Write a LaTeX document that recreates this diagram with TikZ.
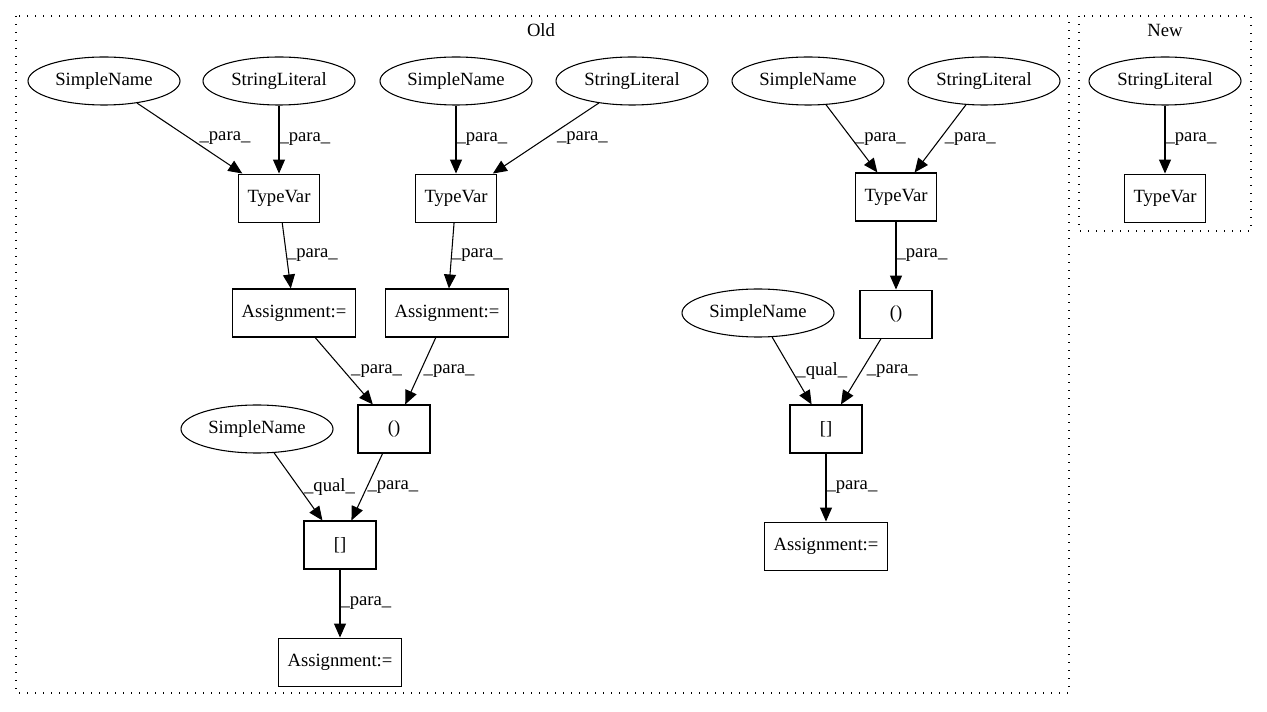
\documentclass[tikz,border=0pt]{standalone}
\usepackage{fontspec}
\setmainfont{Liberation Serif}
\usetikzlibrary{positioning}
\usetikzlibrary{shapes}
\usetikzlibrary{arrows.meta}

\begin{document}
\begin{tikzpicture}[x=0.75pt, y=-0.75pt, node distance=51pt,
  font=\fontsize{14pt}{16pt}\selectfont,
  leaf/.style={draw, ellipse, minimum width=114pt, minimum height=36pt, inner sep=0pt, line width=0.8pt},
  op/.style={draw, rectangle, minimum width=54pt, minimum height=36pt, inner xsep=7pt, inner ysep=0pt, line width=0.8pt},
  flow/.style={-{Triangle[length=10.5pt,width=9pt]}, line width=0.8pt},
  lbl/.style={midway, right, inner sep=0pt},
  cluster/.style={line width=0.8pt, dash pattern=on 1pt off 5pt}]
\useasboundingbox (0,0) rectangle (1267,712);

% Old, left part
\node[leaf] (sn1) at (104,81) {SimpleName};
\node[leaf] (sl1) at (279,81) {StringLiteral};
\node[leaf] (sn2) at (456,81) {SimpleName};
\node[leaf] (sl2) at (632,81) {StringLiteral};
\node[op] (tv1) [below=of sl1] {TypeVar};
\node[op] (tv2) [below=of sn2] {TypeVar};
\node[op] (asg1) at (294,313) {Assignment:=};
\node[op] (asg2) at (447,313) {Assignment:=};
\node[op] (call1) at (394,429) {()};
\node[leaf] (sn3) at (257,429) {SimpleName};
\node[op] (idx1) at (340,545) {[]};
\node[op] (asg3) [below=of idx1] {Assignment:=};
\draw[flow] (sn1) -- (tv1) node[lbl, xshift=7pt] {\_para\_};
\draw[flow] (sl1) -- (tv1) node[lbl] {\_para\_};
\draw[flow] (sn2) -- (tv2) node[lbl] {\_para\_};
\draw[flow] (sl2) -- (tv2) node[lbl, xshift=8pt] {\_para\_};
\draw[flow] (tv1) -- (asg1) node[lbl] {\_para\_};
\draw[flow] (tv2) -- (asg2) node[lbl] {\_para\_};
\draw[flow] (asg1) -- (call1) node[lbl, xshift=5pt] {\_para\_};
\draw[flow] (asg2) -- (call1) node[lbl, xshift=2pt] {\_para\_};
\draw[flow] (sn3) -- (idx1) node[lbl, xshift=4pt] {\_qual\_};
\draw[flow] (call1) -- (idx1) node[lbl] {\_para\_};
\draw[flow] (idx1) -- (asg3) node[lbl] {\_para\_};

% Old, right part
\node[leaf] (sn4) at (808,81) {SimpleName};
\node[leaf] (sl3) at (984,81) {StringLiteral};
\node[op] (tv3) at (896,197) {TypeVar};
\node[op] (call2) [below=of tv3] {()};
\node[leaf] (sn5) at (758,313) {SimpleName};
\node[op] (idx2) at (826,429) {[]};
\node[op] (asg4) [below=of idx2] {Assignment:=};
\draw[flow] (sn4) -- (tv3) node[lbl, xshift=2pt] {\_para\_};
\draw[flow] (sl3) -- (tv3) node[lbl, xshift=3pt] {\_para\_};
\draw[flow] (tv3) -- (call2) node[lbl] {\_para\_};
\draw[flow] (sn5) -- (idx2) node[lbl, xshift=3pt] {\_qual\_};
\draw[flow] (call2) -- (idx2) node[lbl, xshift=4pt] {\_para\_};
\draw[flow] (idx2) -- (asg4) node[lbl] {\_para\_};

% New
\node[leaf] (sl4) at (1165,81) {StringLiteral};
\node[op] (tv4) [below=of sl4] {TypeVar};
\draw[flow] (sl4) -- (tv4) node[lbl] {\_para\_};

% clusters
\draw[cluster] (16,16) rectangle (1069,693);
\node (old) at (541,30) {Old};
\draw[cluster] (1079,16) rectangle (1251,231);
\node (new) at (1165,30) {New};
\end{tikzpicture}
\end{document}
